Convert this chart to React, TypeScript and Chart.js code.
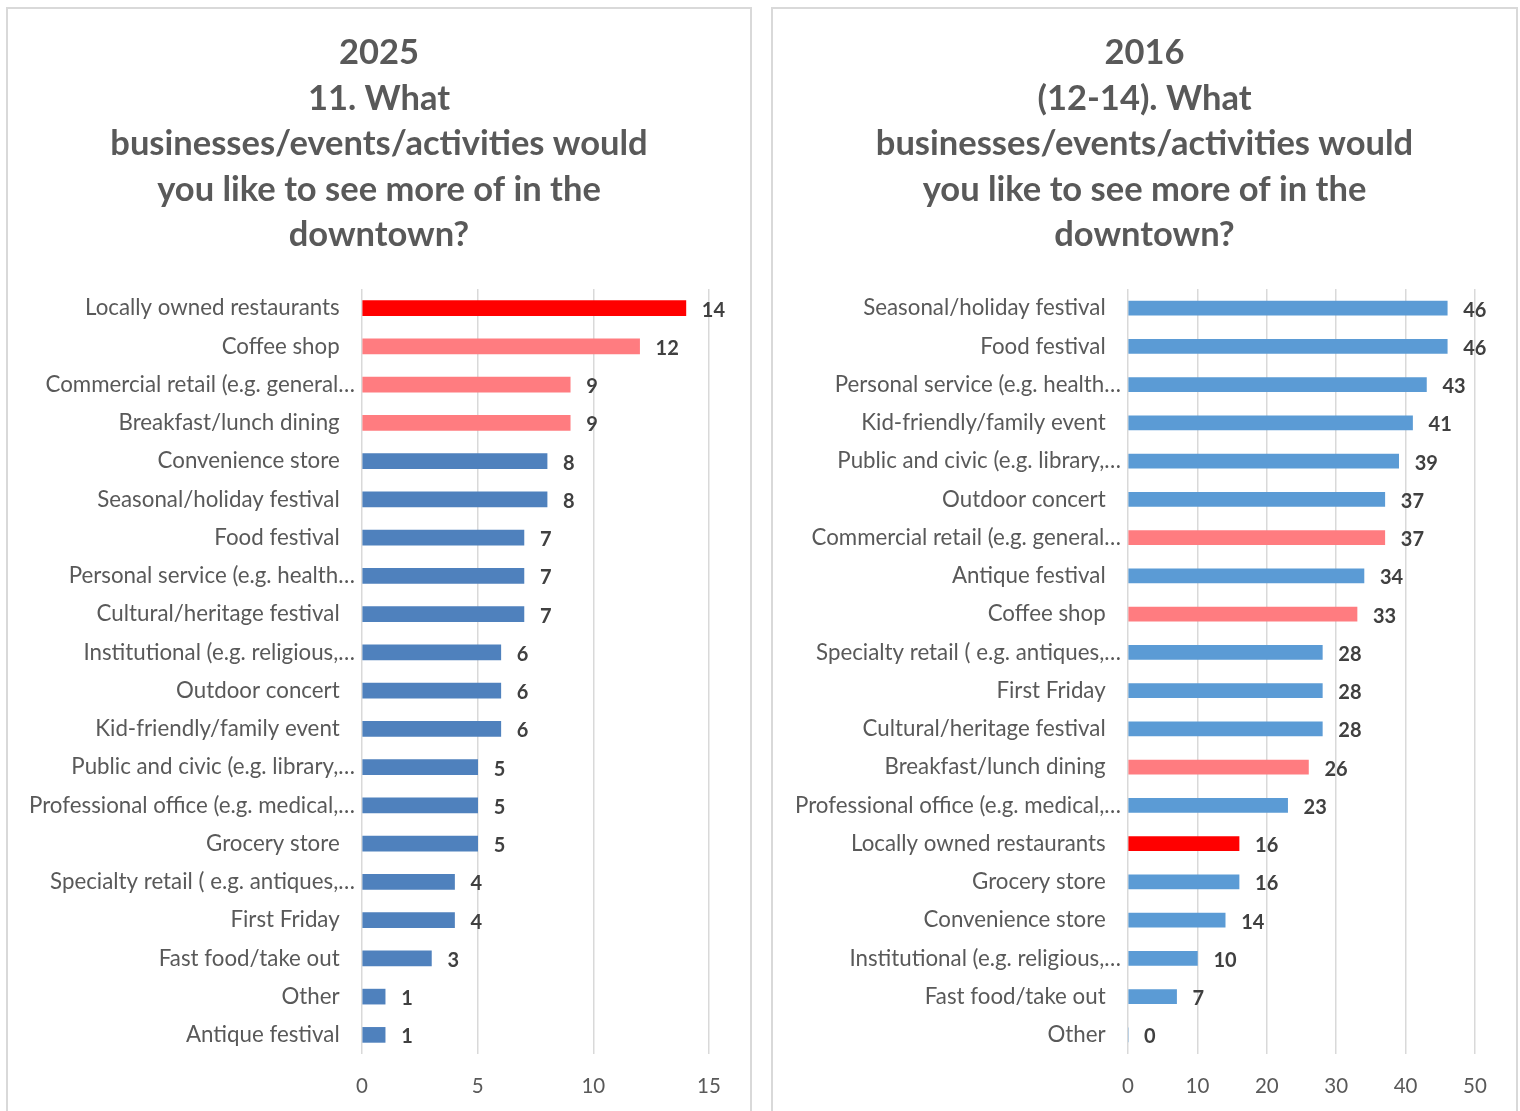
import React, { useEffect, useRef } from "react";
import { Chart, registerables } from "chart.js";

Chart.register(...registerables);

const FONT = "Lato, 'Open Sans', sans-serif";

const title2025 = ["2025", "11. What", "businesses/events/activities would", "you like to see more of in the", "downtown?"];
const categories2025 = [
  "Locally owned restaurants",
  "Coffee shop",
  "Commercial retail (e.g. general…",
  "Breakfast/lunch dining",
  "Convenience store",
  "Seasonal/holiday festival",
  "Food festival",
  "Personal service (e.g. health…",
  "Cultural/heritage festival",
  "Institutional (e.g. religious,…",
  "Outdoor concert",
  "Kid-friendly/family event",
  "Public and civic (e.g. library,…",
  "Professional office (e.g. medical,…",
  "Grocery store",
  "Specialty retail ( e.g. antiques,…",
  "First Friday",
  "Fast food/take out",
  "Other",
  "Antique festival",
];
const values2025 = [14, 12, 9, 9, 8, 8, 7, 7, 7, 6, 6, 6, 5, 5, 5, 4, 4, 3, 1, 1];
const xTicks2025 = { max: 15, step: 5 };

const title2016 = ["2016", "(12-14). What", "businesses/events/activities would", "you like to see more of in the", "downtown?"];
const categories2016 = [
  "Seasonal/holiday festival",
  "Food festival",
  "Personal service (e.g. health…",
  "Kid-friendly/family event",
  "Public and civic (e.g. library,…",
  "Outdoor concert",
  "Commercial retail (e.g. general…",
  "Antique festival",
  "Coffee shop",
  "Specialty retail ( e.g. antiques,…",
  "First Friday",
  "Cultural/heritage festival",
  "Breakfast/lunch dining",
  "Professional office (e.g. medical,…",
  "Locally owned restaurants",
  "Grocery store",
  "Convenience store",
  "Institutional (e.g. religious,…",
  "Fast food/take out",
  "Other",
];
const values2016 = [46, 46, 43, 41, 39, 37, 37, 34, 33, 28, 28, 28, 26, 23, 16, 16, 14, 10, 7, 0];
const xTicks2016 = { max: 50, step: 10 };

const topHighlight = ["Locally owned restaurants"];
const softHighlight = ["Coffee shop", "Commercial retail (e.g. general…", "Breakfast/lunch dining"];

const valueLabelPlugin = {
  id: "valueLabels",
  afterDatasetsDraw(chart: any) {
    const ctx = chart.ctx;
    const meta = chart.getDatasetMeta(0);
    const data = chart.data.datasets[0].data;
    ctx.save();
    ctx.font = `bold 20px ${FONT}`;
    ctx.fillStyle = "#404040";
    ctx.textAlign = "left";
    ctx.textBaseline = "middle";
    meta.data.forEach((el: any, i: number) => {
      ctx.fillText(String(data[i]), el.x + 16, el.y + 2);
    });
    ctx.restore();
  },
};

const panelTitlePlugin = {
  id: "panelTitle",
  afterDraw(chart: any, _args: any, opts: any) {
    const lines: string[] = opts.lines || [];
    const ctx = chart.ctx;
    ctx.save();
    ctx.font = `bold 34.5px ${FONT}`;
    ctx.fillStyle = "#595959";
    ctx.textAlign = "center";
    ctx.textBaseline = "middle";
    lines.forEach((line, i) => {
      ctx.fillText(line, chart.width / 2, 44 + i * 45.5);
    });
    ctx.restore();
  },
};

type PanelProps = {
  title: string[];
  labels: string[];
  values: number[];
  ticks: { max: number; step: number };
  baseColor: string;
  width: number;
  plotLeft: number;
  barThickness: number;
};

function Panel({ title, labels, values, ticks, baseColor, width, plotLeft, barThickness }: PanelProps) {
  const ref = useRef<HTMLCanvasElement>(null);
  useEffect(() => {
    if (!ref.current) return;
    const colors = labels.map((l) =>
      topHighlight.includes(l) ? "#FF0000" : softHighlight.includes(l) ? "#FF7C80" : baseColor
    );
    const chart = new Chart(ref.current, {
      type: "bar",
      data: {
        labels,
        datasets: [
          {
            data: values,
            backgroundColor: colors,
            borderWidth: 0,
            barThickness,
          },
        ],
      },
      options: {
        indexAxis: "y",
        animation: false,
        responsive: false,
        devicePixelRatio: 1,
        layout: { padding: { left: 0, right: 41, top: 280, bottom: 0 } },
        plugins: {
          legend: { display: false },
          tooltip: { enabled: false },
          title: { display: false },
          panelTitle: { lines: title },
        },
        scales: {
          x: {
            min: 0,
            max: ticks.max,
            ticks: {
              stepSize: ticks.step,
              color: "#595959",
              font: { family: FONT, size: 20.5 },
              padding: 20,
            },
            grid: { color: "#d9d9d9", lineWidth: 1.5, drawTicks: false },
            border: { display: false },
            afterFit: (scale: any) => {
              scale.height = 57;
            },
          },
          y: {
            ticks: {
              color: "#595959",
              font: { family: FONT, size: 22.3 },
              padding: 7,
              autoSkip: false,
              callback: function (this: any, value: any) {
                const l = this.getLabelForValue(value);
                return l.endsWith("…") ? l : l + "\u2002\u2009\u200A";
              },
            },
            grid: { display: false, drawTicks: false },
            border: { display: false },
            afterFit: (scale: any) => {
              scale.width = plotLeft;
            },
          },
        },
      },
      plugins: [valueLabelPlugin, panelTitlePlugin],
    } as any);
    return () => chart.destroy();
  }, []);
  return <canvas ref={ref} width={width} height={1102} style={{ width, height: 1102, display: "block" }} />;
}

export default function App() {
  return (
    <div style={{ position: "absolute", left: 0, top: 0, width: 1520, height: 1111, overflow: "hidden", background: "#fff" }}>
      <div
        style={{
          position: "absolute",
          left: 6,
          top: 7,
          width: 746,
          height: 1130,
          border: "2px solid #d9d9d9",
          boxSizing: "border-box",
        }}
      >
        <Panel
          title={title2025}
          labels={categories2025}
          values={values2025}
          ticks={xTicks2025}
          baseColor="#4F81BD"
          width={742}
          plotLeft={354}
          barThickness={15}
        />
      </div>
      <div
        style={{
          position: "absolute",
          left: 771,
          top: 7,
          width: 747,
          height: 1130,
          border: "2px solid #d9d9d9",
          boxSizing: "border-box",
        }}
      >
        <Panel
          title={title2016}
          labels={categories2016}
          values={values2016}
          ticks={xTicks2016}
          baseColor="#5B9BD5"
          width={743}
          plotLeft={355}
          barThickness={14}
        />
      </div>
    </div>
  );
}
